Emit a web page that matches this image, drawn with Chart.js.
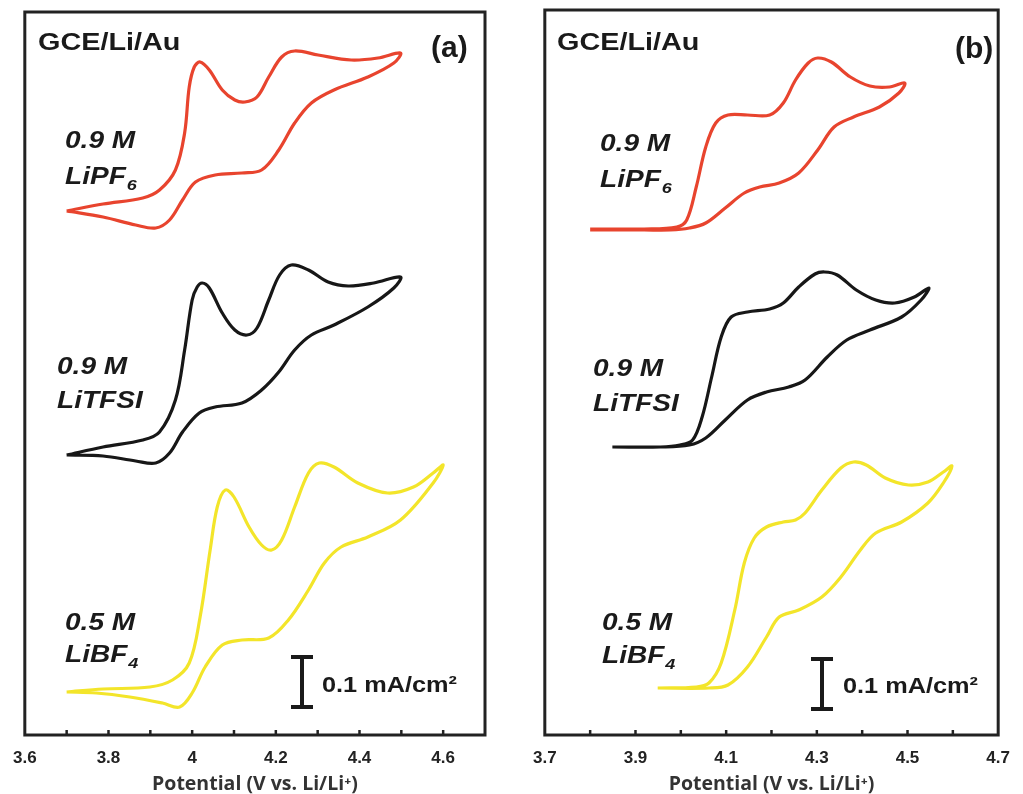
<!DOCTYPE html>
<html>
<head>
<meta charset="utf-8">
<script src="https://cdn.jsdelivr.net/npm/chart.js@4.4.1/dist/chart.umd.min.js"></script>
<style>
  html, body { margin: 0; padding: 0; background: #fff; overflow: hidden; }
  #wrap { position: relative; width: 1023px; height: 794px; }
  canvas { position: absolute; top: 0; }
  #cvA { left: 0; }
  #cvB { left: 520px; }
</style>
</head>
<body>
<div id="wrap">
  <canvas id="cvA" width="505" height="794"></canvas>
  <canvas id="cvB" width="503" height="794"></canvas>
</div>
<script>
// CV curves, x = potential (V vs Li/Li+), y = current density (mA/cm2) incl. stacking offset
// panel (a)
const aRedV = [3.700,3.787,3.882,3.922,3.960,3.982,3.993,4.005,4.019,4.041,4.072,4.102,4.126,4.155,4.183,4.214,4.245,4.301,4.380,4.444,4.498,
  4.482,4.420,4.339,4.285,4.245,4.207,4.166,4.119,4.055,4.008,3.977,3.946,3.913,3.865,3.787,3.700];
const aRedI = [1.048,1.062,1.074,1.090,1.130,1.204,1.296,1.336,1.346,1.330,1.290,1.270,1.266,1.276,1.316,1.356,1.368,1.360,1.350,1.354,1.364,
  1.344,1.316,1.290,1.264,1.224,1.170,1.130,1.124,1.120,1.106,1.070,1.030,1.014,1.020,1.036,1.048];
const aBlkV = [3.700,3.787,3.882,3.922,3.960,3.982,4.000,4.012,4.024,4.041,4.072,4.102,4.131,4.155,4.183,4.209,4.237,4.278,4.325,4.373,4.434,4.498,
  4.482,4.420,4.339,4.285,4.245,4.207,4.166,4.119,4.055,4.017,3.977,3.946,3.913,3.865,3.787,3.700];
const aBlkI = [0.560,0.576,0.590,0.606,0.670,0.770,0.870,0.896,0.904,0.894,0.844,0.810,0.800,0.814,0.870,0.920,0.940,0.930,0.906,0.898,0.904,0.916,
  0.894,0.856,0.820,0.800,0.770,0.726,0.690,0.664,0.656,0.644,0.606,0.564,0.544,0.548,0.558,0.560];
const aYelV = [3.700,3.787,3.899,3.953,3.993,4.019,4.043,4.060,4.079,4.100,4.136,4.166,4.190,4.214,4.245,4.278,4.304,4.339,4.396,4.467,4.529,4.576,4.600,
  4.576,4.498,4.420,4.356,4.316,4.278,4.230,4.183,4.119,4.072,4.031,4.000,3.970,3.929,3.851,3.771,3.700];
const aYelI = [0.086,0.092,0.096,0.110,0.144,0.236,0.370,0.456,0.490,0.476,0.416,0.380,0.370,0.390,0.456,0.524,0.544,0.536,0.504,0.484,0.496,0.524,0.540,
  0.504,0.430,0.396,0.376,0.344,0.290,0.230,0.194,0.190,0.180,0.136,0.084,0.056,0.064,0.076,0.084,0.086];

// panel (b)
const bRedV = [3.800,3.919,3.991,4.013,4.034,4.055,4.077,4.104,4.147,4.196,4.226,4.253,4.281,4.302,4.332,4.374,4.417,4.460,4.494,
  4.481,4.438,4.381,4.338,4.302,4.260,4.217,4.174,4.140,4.098,4.055,4.019,3.977,3.919,3.800];
const bRedI = [1.012,1.012,1.016,1.030,1.096,1.176,1.224,1.240,1.240,1.240,1.264,1.310,1.344,1.354,1.346,1.316,1.298,1.296,1.304,
  1.284,1.256,1.236,1.216,1.170,1.124,1.104,1.096,1.084,1.054,1.024,1.014,1.010,1.010,1.010];
const bBlkV = [3.849,3.955,3.998,4.026,4.047,4.068,4.089,4.111,4.147,4.196,4.226,4.260,4.296,4.317,4.345,4.387,4.430,4.472,4.515,4.547,
  4.530,4.487,4.417,4.366,4.323,4.274,4.238,4.189,4.147,4.098,4.055,4.019,3.955,3.849];
const bBlkI = [0.576,0.576,0.580,0.590,0.636,0.716,0.796,0.836,0.846,0.852,0.864,0.896,0.922,0.926,0.920,0.890,0.870,0.864,0.876,0.894,
  0.870,0.836,0.810,0.790,0.756,0.710,0.696,0.686,0.670,0.630,0.594,0.580,0.576,0.576];
const bYelV = [3.949,4.034,4.062,4.089,4.119,4.140,4.162,4.189,4.226,4.253,4.274,4.311,4.353,4.381,4.409,4.451,4.502,4.545,4.579,4.598,
  4.579,4.545,4.487,4.430,4.396,4.353,4.311,4.260,4.217,4.189,4.147,4.104,4.062,3.949];
const bYelI = [0.094,0.096,0.104,0.144,0.250,0.344,0.394,0.416,0.426,0.430,0.444,0.490,0.534,0.546,0.540,0.514,0.500,0.506,0.526,0.538,
  0.504,0.464,0.426,0.404,0.370,0.316,0.276,0.250,0.236,0.196,0.136,0.100,0.094,0.094];

// tick labels
const aTickVals = [3.6, 3.8, 4.0, 4.2, 4.4, 4.6];
const aTickText = ['3.6', '3.8', '4', '4.2', '4.4', '4.6'];
const bTickVals = [3.7, 3.9, 4.1, 4.3, 4.5, 4.7];
const bTickText = ['3.7', '3.9', '4.1', '4.3', '4.5', '4.7'];
const xTitle = 'Potential (V vs. Li/Li\u207A)';

// annotations
const cellName = 'GCE/Li/Au';
const panelTags = ['(a)', '(b)'];
const saltConc = ['0.9 M', '0.9 M', '0.5 M'];
const saltName = ['LiPF', 'LiTFSI', 'LiBF'];
const saltSub = ['6', '', '4'];
const barStep = 0.1;
const barText = '0.1 mA/cm\u00B2';

const colors = ['#e8442e', '#171717', '#f3e52a'];
const FONT = '"Liberation Sans", Arial, sans-serif';

function pts(xs, ys) {
  return xs.map((x, i) => ({ x: x, y: ys[i] }));
}

function stretchText(ctx, s, x, y, font, sx) {
  ctx.save();
  ctx.translate(x, y);
  ctx.scale(sx, 1);
  ctx.font = font;
  ctx.fillText(s, 0, 0);
  const w = ctx.measureText(s).width * sx;
  ctx.restore();
  return w;
}

const notesPlugin = {
  id: 'notes',
  afterDraw(chart, args, o) {
    const { ctx, chartArea: a, scales } = chart;
    ctx.save();
    // frame
    ctx.strokeStyle = '#222';
    ctx.lineWidth = 3;
    ctx.strokeRect(a.left, a.top, a.right - a.left, a.bottom - a.top);
    // small inward tick marks
    ctx.lineWidth = 2.5;
    scales.x.ticks.forEach(t => {
      const px = scales.x.getPixelForValue(t.value);
      if (px <= a.left + 3 || px >= a.right - 3) return;
      ctx.beginPath();
      ctx.moveTo(px, a.bottom);
      ctx.lineTo(px, a.bottom - 5);
      ctx.stroke();
    });

    ctx.fillStyle = '#1a1a1a';
    ctx.textBaseline = 'alphabetic';
    stretchText(ctx, cellName, o.head[0], o.head[1], 'bold 24px ' + FONT, 1.2);
    stretchText(ctx, o.tag, o.tagPos[0], o.tagPos[1], 'bold 30px ' + FONT, 1.0);

    o.labels.forEach((p, i) => {
      stretchText(ctx, saltConc[i], p[0], p[1], 'italic bold 23px ' + FONT, 1.22);
      const w = stretchText(ctx, saltName[i], p[0], p[2], 'italic bold 23px ' + FONT, 1.22);
      if (saltSub[i]) stretchText(ctx, saltSub[i], p[0] + w + 1, p[2] + 6, 'italic bold 15px ' + FONT, 1.2);
    });

    // 0.1 mA/cm2 scale bar
    const y0 = scales.y.getPixelForValue(o.bar.base);
    const y1 = scales.y.getPixelForValue(o.bar.base + barStep);
    const bx = o.bar.x;
    ctx.strokeStyle = '#1a1a1a';
    ctx.lineWidth = 4;
    ctx.beginPath();
    ctx.moveTo(bx, y0); ctx.lineTo(bx, y1);
    ctx.moveTo(bx - 11, y0); ctx.lineTo(bx + 11, y0);
    ctx.moveTo(bx - 11, y1); ctx.lineTo(bx + 11, y1);
    ctx.stroke();
    stretchText(ctx, barText, o.bar.tx, o.bar.ty, 'bold 22px ' + FONT, 1.15);
    ctx.restore();
  }
};

function makeChart(id, series, xMin, xMax, yMax, tickVals, tickText, pad, notes) {
  const datasets = series.map((s, i) => ({
    data: pts(s[0], s[1]),
    showLine: true,
    borderColor: colors[i],
    borderWidth: 3.2,
    pointRadius: 0,
    tension: 0.35,
    fill: false
  }));
  return new Chart(document.getElementById(id), {
    type: 'scatter',
    data: { datasets: datasets },
    plugins: [notesPlugin],
    options: {
      responsive: false,
      animation: false,
      layout: { padding: { left: pad[0], right: pad[1], top: pad[2], bottom: 0 } },
      plugins: { legend: { display: false }, tooltip: { enabled: false }, notes: notes },
      scales: {
        x: {
          type: 'linear',
          min: xMin,
          max: xMax,
          grid: { display: false, drawTicks: false },
          border: { display: false },
          afterFit: s => { s.height = 59; },
          ticks: {
            stepSize: 0.1,
            autoSkip: false,
            maxRotation: 0,
            padding: 13,
            color: '#222',
            font: { family: FONT, size: 17, weight: 'bold' },
            callback: v => {
              const i = tickVals.findIndex(t => Math.abs(t - v) < 1e-6);
              return i >= 0 ? tickText[i] : '';
            }
          },
          title: {
            display: true,
            text: xTitle,
            color: '#333',
            padding: 0,
            font: { family: '"Open Sans", sans-serif', size: 19.5, weight: 'bold', lineHeight: 1 }
          }
        },
        y: { display: false, min: 0, max: yMax }
      }
    }
  });
}

makeChart('cvA', [[aRedV, aRedI], [aBlkV, aBlkI], [aYelV, aYelI]], 3.6, 4.7, 1.446,
  aTickVals, aTickText, [21, 20, 12], {
    head: [38, 50], tag: panelTags[0], tagPos: [431, 57],
    labels: [[65, 148, 184], [57, 374, 408], [65, 630, 662]],
    bar: { x: 302, base: 0.056, tx: 322, ty: 692 }
  });

makeChart('cvB', [[bRedV, bRedI], [bBlkV, bBlkI], [bYelV, bYelI]], 3.7, 4.7, 1.45,
  bTickVals, bTickText, [20, 13, 10], {
    head: [37, 50], tag: panelTags[1], tagPos: [435, 58],
    labels: [[80, 151, 187], [73, 376, 411], [82, 630, 663]],
    bar: { x: 302, base: 0.052, tx: 323, ty: 693 }
  });
</script>
</body>
</html>
